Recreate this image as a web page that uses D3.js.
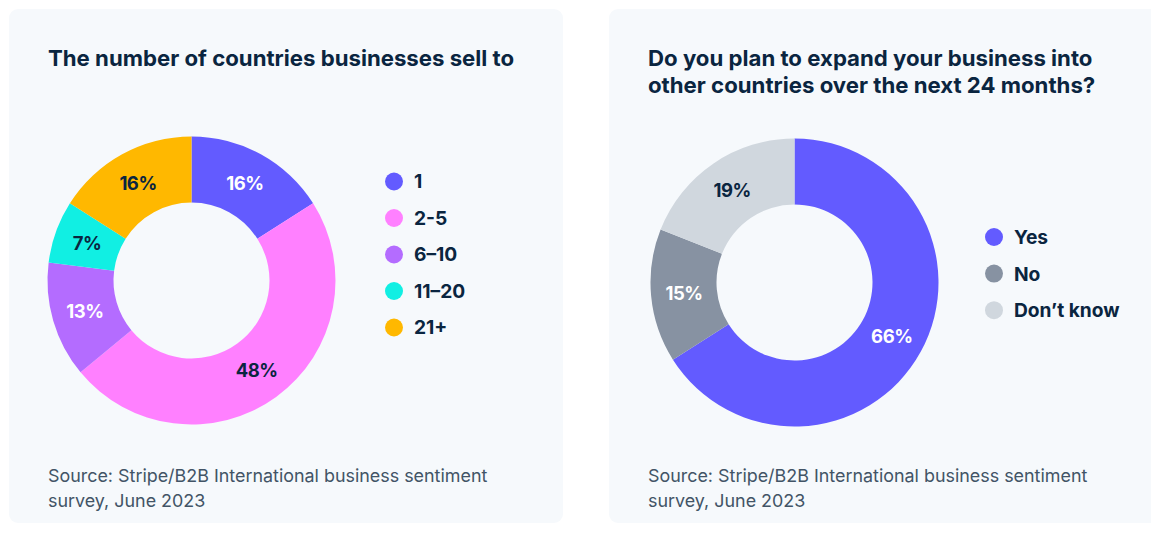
<!DOCTYPE html>
<html>
<head>
<meta charset="utf-8">
<script src="https://cdn.jsdelivr.net/npm/d3@7/dist/d3.min.js"></script>
<style>
  html, body { margin: 0; padding: 0; background: #ffffff; }
  svg { display: block; }
  text { font-family: Inter, "Noto Sans", sans-serif; }
</style>
</head>
<body>
<svg id="chart" width="1151" height="533"></svg>
<script>
// Panel 1: number of countries businesses sell to
const countryBuckets = ["1", "2-5", "6–10", "11–20", "21+"];
const countryShares = [16, 48, 13, 7, 16];
const countryColors = ["#635bff", "#ff80ff", "#b46cff", "#11efe3", "#ffb800"];
const countryLabelInk = ["#ffffff", "#0a2540", "#ffffff", "#0a2540", "#0a2540"];

// Panel 2: expansion plans
const expandAnswers = ["Yes", "No", "Don’t know"];
const expandShares = [66, 15, 19];
const expandColors = ["#635bff", "#8792a2", "#d0d7de"];
const expandLabelInk = ["#ffffff", "#ffffff", "#0a2540"];

const titles = [
  ["The number of countries businesses sell to"],
  ["Do you plan to expand your business into", "other countries over the next 24 months?"]
];
const sourceLines = ["Source: Stripe/B2B International business sentiment", "survey, June 2023"];

const svg = d3.select("#chart");
const navy = "#0a2540";

const panels = [
  { x: 9, cx: 191.5, cy: 280.5, legendX: 394, legendY: 181.5, legendStep: 36.5,
    cats: countryBuckets, vals: countryShares, colors: countryColors, ink: countryLabelInk, title: titles[0] },
  { x: 609, cx: 794.5, cy: 282.5, legendX: 994, legendY: 237, legendStep: 36.6,
    cats: expandAnswers, vals: expandShares, colors: expandColors, ink: expandLabelInk, title: titles[1] }
];

const outerR = 144, innerR = 78;

panels.forEach(p => {
  const g = svg.append("g");

  g.append("rect")
    .attr("x", p.x).attr("y", 9)
    .attr("width", 554).attr("height", 514)
    .attr("rx", 9).attr("fill", "#f6f9fc");

  // title
  const t = g.append("text")
    .attr("x", p.x + 39).attr("y", 65.7)
    .attr("fill", navy)
    .attr("font-size", 22.2).attr("font-weight", 700);
  p.title.forEach((line, i) => {
    t.append("tspan").attr("x", p.x + 39).attr("dy", i === 0 ? 0 : 27.6).text(line);
  });

  // donut
  const pie = d3.pie().sort(null).value(d => d.v);
  const arc = d3.arc().innerRadius(innerR).outerRadius(outerR);
  const data = p.cats.map((c, i) => ({ c, v: p.vals[i], i }));
  const arcs = pie(data);
  const color = d3.scaleOrdinal().domain(p.cats).range(p.colors);
  const ink = d3.scaleOrdinal().domain(p.cats).range(p.ink);

  const dg = g.append("g").attr("transform", `translate(${p.cx},${p.cy})`);
  dg.selectAll("path").data(arcs).join("path")
    .attr("d", arc)
    .attr("fill", d => color(d.data.c));
  dg.selectAll("text").data(arcs).join("text")
    .attr("transform", d => `translate(${arc.centroid(d)})`)
    .attr("text-anchor", "middle")
    .attr("dy", "0.36em")
    .attr("font-size", 18.5).attr("font-weight", 700)
    .attr("letter-spacing", -0.5)
    .attr("fill", d => ink(d.data.c))
    .text(d => d.data.v + "%");

  // legend
  const lg = g.append("g");
  const rows = lg.selectAll("g").data(p.cats).join("g")
    .attr("transform", (d, i) => `translate(${p.legendX},${p.legendY + i * p.legendStep})`);
  rows.append("circle").attr("r", 9).attr("fill", d => color(d));
  rows.append("text")
    .attr("x", 20).attr("dy", "0.36em")
    .attr("font-size", 19.2).attr("font-weight", 700)
    .attr("fill", navy)
    .text(d => d);

  // source note
  const s = g.append("text")
    .attr("x", p.x + 39).attr("y", 482.3)
    .attr("fill", "#425466")
    .attr("font-size", 17.9);
  sourceLines.forEach((line, i) => {
    s.append("tspan").attr("x", p.x + 39).attr("dy", i === 0 ? 0 : 24.4).text(line);
  });
});
</script>
</body>
</html>
